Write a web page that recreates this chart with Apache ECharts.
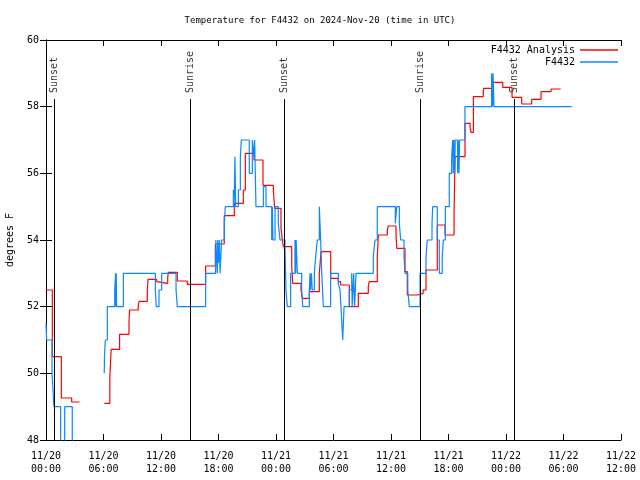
<!DOCTYPE html>
<html><head><meta charset="utf-8">
<script src="https://cdn.jsdelivr.net/npm/echarts@6/dist/echarts.min.js"></script>
<style>html,body{margin:0;padding:0;background:#fff}#c{width:640px;height:480px}</style>
</head><body><div id="c"></div>
<script>
const titleText = 'Temperature for F4432 on 2024-Nov-20 (time in UTC)';
const yAxisName = 'degrees F';
const xTickLabels = ['11/20\n00:00','11/20\n06:00','11/20\n12:00','11/20\n18:00','11/21\n00:00','11/21\n06:00','11/21\n12:00','11/21\n18:00','11/22\n00:00','11/22\n06:00','11/22\n12:00'];

// hours since 2024-11-20 00:00 UTC
const analysisName = 'F4432 Analysis';
const analysisHours = [0,0.66,1.6,2.68,3.41,3.5,
  6.08,6.66,6.8,7.68,8.66,8.72,9.62,9.72,10.57,10.65,11.55,11.72,12.7,12.77,13.7,14.74,16.65,17.67,18.6,19.65,20.59,20.8,21.7,22.64,23.72,23.86,24.52,24.66,24.77,25.64,25.74,26.61,26.75,27.48,28.52,28.7,29.71,30.5,30.75,31.65,32.59,33.63,33.73,34.57,34.68,35.62,35.72,36.52,36.6,37.46,37.7,38.75,39.35,39.65,40.83,41.64,42.58,42.68,43.72,44.25,44.35,44.6,45.63,45.67,46.61,47.66,48.63,49.64,50.68,51.65,52.7,53.71];
const analysisTemps = [52.5,50.5,49.26,49.14,49.14,null,
  49.1,49.9,50.72,51.17,51.55,51.9,52.03,52.16,52.5,52.82,52.75,52.7,52.88,53.03,52.77,52.67,53.22,53.88,54.73,55.1,55.5,56.6,56.4,55.64,55.5,54.95,54.35,54.0,53.8,53.25,52.7,52.5,52.25,52.45,53.0,53.65,52.85,52.75,52.65,52.0,52.4,52.6,52.75,53.48,54.15,54.3,54.42,54.15,53.75,53.05,52.35,52.4,52.5,53.1,54.45,54.15,54.75,56.5,57.5,57.38,57.23,58.3,58.45,58.55,58.73,58.58,58.28,58.08,58.22,58.45,58.53,58.53];

const obsName = 'F4432';
const obsHours = [0,0.07,0.63,0.83,1.53,1.95,2.74,3.0,
  6.08,6.1,6.19,6.4,7.17,7.27,7.3,7.33,7.37,8.07,11.41,11.51,11.79,12.07,13.57,13.7,16.66,
  17.70,17.72,17.88,17.92,17.98,18.09,18.16,18.33,18.61,18.71,19.55,19.62,19.72,19.79,20.07,20.28,20.38,21.21,21.53,21.7,21.77,21.84,21.91,22.15,22.68,22.96,
  23.55,23.62,23.68,23.9,24.24,24.42,24.94,25.04,25.18,25.53,25.98,26.05,26.1,26.23,26.68,26.79,27.48,27.55,27.6,27.7,27.78,28.0,28.14,28.31,28.52,28.66,28.77,28.94,29.7,30.5,30.68,30.78,30.96,31.03,31.1,31.65,31.9,31.95,32.1,32.2,32.35,34.15,34.33,34.57,
  36.45,36.6,36.87,37.01,37.36,37.46,37.75,37.91,39.03,39.65,39.79,40.28,40.35,40.83,41.04,41.35,41.46,41.67,42.08,42.33,42.44,42.5,42.55,42.65,42.7,42.95,43.0,43.1,43.15,43.72,46.5,46.6,46.65,46.75,54.86];
const obsTemps = [51.5,51,50,49,47,49,47,null,
  50,50.5,51,52,52.5,53,52,53,52,53,52.5,52,52.5,53,52.5,52,53,
  53.5,54,53,54,53.3,54,53,54,54.5,55,55.5,55,56.5,55,55.5,56.5,57,56,57,56.5,57,56,55,55,55.6,55,
  54,55,54,55,54.5,54,53.8,52.5,52,53,54,53,54,53,52.5,52,52.5,53,52.5,53,52.5,53,53.5,54,55,54,53,52,53,52.7,52.5,52,51,51.5,52,52.5,53,52,53,52,53,53.5,54,55,
  54.5,55,54.5,54,53.5,53,52.5,52,53,53.5,54,54.5,55,54,53,53.5,54,55,56,56.5,57,56,57,56,57,56,57,56,57,58,59,58,59,58,58];

const sunEventHours = [0.87, 15.1, 24.87, 39.1, 48.9];
const sunEventNames = ['Sunset', 'Sunrise', 'Sunset', 'Sunrise', 'Sunset'];

const FONT = 'DejaVu Sans Mono';
const pair = (xs, ys) => xs.map((x, i) => [x, ys[i]]);

const chart = echarts.init(document.getElementById('c'), null, {renderer: 'canvas'});
const axisLine = {show: true, lineStyle: {color: '#000', width: 1}};
const tick = {show: true, inside: true, length: 6, lineStyle: {color: '#000', width: 1}};
chart.setOption({
  animation: false,
  backgroundColor: '#fff',
  title: {text: titleText, left: 'center', top: 11,
    textStyle: {fontFamily: FONT, fontSize: 9, fontWeight: 'normal', color: '#000'}},
  legend: {
    data: [analysisName, obsName], orient: 'vertical', right: 17, top: 40, align: 'right',
    icon: 'rect', itemWidth: 38, itemHeight: 1.3, itemGap: 2,
    textStyle: {fontFamily: FONT, fontSize: 10, color: '#000'}
  },
  grid: {left: 46, right: 19, top: 40, bottom: 40, containLabel: false, outerBoundsMode: 'none'},
  xAxis: [{
    type: 'value', min: 0, max: 60, interval: 6, position: 'bottom',
    axisLine, axisTick: tick, splitLine: {show: false},
    axisLabel: {fontFamily: FONT, fontSize: 10, color: '#000', lineHeight: 13, margin: 10,
      formatter: v => xTickLabels[Math.round(v / 6)]}
  }, {
    type: 'value', min: 0, max: 60, interval: 6, position: 'top',
    axisLine, axisTick: tick, splitLine: {show: false}, axisLabel: {show: false}
  }],
  yAxis: [{
    type: 'value', min: 48, max: 60, interval: 2, position: 'left',
    name: yAxisName, nameLocation: 'middle', nameGap: 31, nameRotate: 90,
    nameTextStyle: {fontFamily: FONT, fontSize: 10, color: '#000'},
    axisLine, axisTick: tick, splitLine: {show: false},
    axisLabel: {fontFamily: FONT, fontSize: 10, color: '#000', margin: 7}
  }, {
    type: 'value', min: 48, max: 60, interval: 2, position: 'right',
    axisLine, axisTick: tick, splitLine: {show: false}, axisLabel: {show: false}
  }],
  series: [
    {
      type: 'line', data: [], silent: true, z: 1,
      markLine: {
        symbol: 'none', silent: true, label: {show: false}, animation: false,
        lineStyle: {color: '#000', width: 1, type: 'solid'},
        data: sunEventHours.map(h => [{coord: [h, 58.23]}, {coord: [h, 48]}])
      }
    },
    {
      type: 'scatter', silent: true, symbolSize: 0, z: 1,
      data: sunEventHours.map((h, i) => ({value: [h, 58.41], name: sunEventNames[i]})),
      label: {show: true, formatter: '{b}', rotate: 90, position: 'inside', align: 'left', verticalAlign: 'middle',
        fontFamily: FONT, fontSize: 10, color: '#000'}
    },
    {
      name: analysisName, type: 'line', step: 'end', data: pair(analysisHours, analysisTemps),
      showSymbol: false, symbol: 'none', connectNulls: false, z: 3,
      lineStyle: {color: '#ff0000', width: 1.2}, itemStyle: {color: '#ff0000'}
    },
    {
      name: obsName, type: 'line', step: 'end', data: pair(obsHours, obsTemps),
      showSymbol: false, symbol: 'none', connectNulls: false, z: 4,
      lineStyle: {color: '#0a88ff', width: 1.2}, itemStyle: {color: '#0a88ff'}
    }
  ]
});
</script></body></html>
